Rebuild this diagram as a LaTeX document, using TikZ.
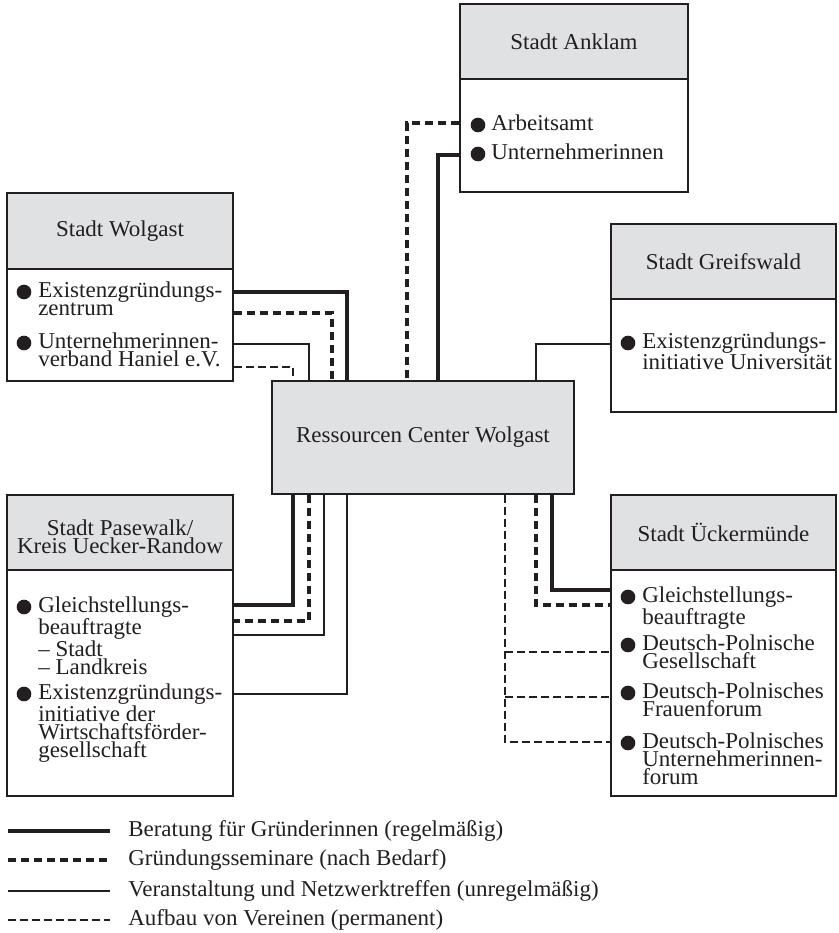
\documentclass[tikz,border=0pt]{standalone}
\usepackage{fontspec}
\setmainfont{Liberation Serif}[FakeStretch=1.015]
\usetikzlibrary{fit}
\definecolor{hdrgray}{HTML}{DFE1E2}
\definecolor{ink}{HTML}{231F20}
\tikzset{
  box/.style={draw=ink, line width=1.25pt, inner sep=0pt},
  hdr/.style={box, fill=hdrgray},
  bodybox/.style={box, fill=white},
  txtfont/.style={font=\fontsize{17}{13.5}\selectfont, text=ink},
  itm/.style={txtfont, anchor=north west, inner sep=0pt, align=left},
  ttl/.style={txtfont, align=center, inner sep=0pt},
  bul/.style={circle, fill=ink, inner sep=0pt, minimum size=11pt},
  cthick/.style={draw=ink, line width=2.5pt},
  cthickdash/.style={draw=ink, line width=2.5pt, dash pattern=on 6pt off 3.75pt},
  cthin/.style={draw=ink, line width=1pt},
  cdash/.style={draw=ink, line width=1pt, dash pattern=on 6pt off 3pt},
}
\begin{document}
\begin{tikzpicture}[x=0.75pt,y=-0.75pt]
\useasboundingbox (0,0) rectangle (839,933);

% ---------- boxes ----------
% Anklam
\node[hdr, fit={(460,4) (688,79)}] (ankH) {};
\node[bodybox, fit={(460,79) (688,192)}] (ankB) {};
\node[ttl] (ankT) at (ankH.center) {Stadt Anklam};
% Wolgast
\node[hdr, fit={(7,193) (233,269)}] (wolH) {};
\node[bodybox, fit={(7,269) (233,381)}] (wolB) {};
\node[ttl] (wolT) at (wolH.center) {Stadt Wolgast};
% Greifswald
\node[hdr, fit={(611,224) (836,299)}] (greH) {};
\node[bodybox, fit={(611,299) (836,412)}] (greB) {};
\node[ttl] (greT) at (greH.center) {Stadt Greifswald};
% Center
\node[hdr, fit={(272,381) (574,494)}] (rcw) {};
\node[ttl] (rcwT) at (rcw.center) {Ressourcen Center Wolgast};
% Pasewalk
\node[hdr, fit={(7,495) (233,570)}] (pasH) {};
\node[bodybox, fit={(7,570) (233,796)}] (pasB) {};
\node[ttl] (pasT) at ([yshift=-3pt]pasH.center) {Stadt Pasewalk/\\Kreis Uecker-Randow};
% Ueckermuende
\node[hdr, fit={(611,495) (836,570)}] (uckH) {};
\node[bodybox, fit={(611,570) (836,796)}] (uckB) {};
\node[ttl] (uckT) at (uckH.center) {Stadt Ückermünde};

% ---------- items ----------
\node[bul] (ankb1) at (478,125) {};
\node[itm] (anki1) at (491,114.5) {Arbeitsamt};
\node[bul] (ankb2) at (478,154) {};
\node[itm] (anki2) at (491,143.5) {Unternehmerinnen};

\node[bul] (wolb1) at (24,292) {};
\node[itm] (woli1) at (38,281.5) {Existenzgründungs-\\zentrum};
\node[bul] (wolb2) at (24,343) {};
\node[itm] (woli2) at (38,332.5) {Unternehmerinnen-\\verband Haniel e.V.};

\node[bul] (greb1) at (628,343) {};
\node[itm] (grei1) at (642,332.5) {Existenzgründungs-\\initiative Universität};

\node[bul] (pasb1) at (24,607) {};
\node[itm] (pasi1) at (38,596.5) {Gleichstellungs-\\beauftragte\\\textendash\ Stadt\\\textendash\ Landkreis};
\node[bul] (pasb2) at (24,694) {};
\node[itm] (pasi2) at (38,683.5) {Existenzgründungs-\\initiative der\\Wirtschaftsförder-\\gesellschaft};

\node[bul] (uckb1) at (628,597) {};
\node[itm] (ucki1) at (642,586.5) {Gleichstellungs-\\beauftragte};
\node[bul] (uckb2) at (628,645) {};
\node[itm] (ucki2) at (642,634.5) {Deutsch-Polnische\\Gesellschaft};
\node[bul] (uckb3) at (628,693) {};
\node[itm] (ucki3) at (642,682.5) {Deutsch-Polnisches\\Frauenforum};
\node[bul] (uckb4) at (628,743) {};
\node[itm] (ucki4) at (642,732.5) {Deutsch-Polnisches\\Unternehmerinnen-\\forum};

% ---------- connectors ----------
% Anklam
\draw[cthickdash] (ankB.west |- 0,123) -| (rcw.north -| 407,0);
\draw[cthick] (ankB.west |- 0,155) -| (rcw.north -| 438,0);
% Wolgast
\draw[cthick] (wolB.east |- 0,292) -| (rcw.north -| 347,0);
\draw[cthickdash] (wolB.east |- 0,313) -| (rcw.north -| 332,0);
\draw[cthin] (wolB.east |- 0,344) -| (rcw.north -| 309,0);
\draw[cdash] (wolB.east |- 0,367) -| (rcw.north -| 293,0);
% Greifswald
\draw[cthin] (greB.west |- 0,344) -| (rcw.north -| 536,0);
% Pasewalk
\draw[cthick] (rcw.south -| 293,0) |- (pasB.east |- 0,605);
\draw[cthickdash] (rcw.south -| 309,0) |- (pasB.east |- 0,621);
\draw[cthin] (rcw.south -| 324,0) |- (pasB.east |- 0,635);
\draw[cthin] (rcw.south -| 347,0) |- (pasB.east |- 0,694);
% Ueckermuende
\draw[cthick] (rcw.south -| 552,0) |- (uckB.west |- 0,590);
\draw[cthickdash] (rcw.south -| 536,0) |- (uckB.west |- 0,605);
\draw[cdash] (rcw.south -| 505,0) |- (uckB.west |- 0,742);
\coordinate (ubr2) at (505,652);
\coordinate (ubr3) at (505,697);
\draw[cdash] (ubr2) -- (uckB.west |- ubr2);
\draw[cdash] (ubr3) -- (uckB.west |- ubr3);

% ---------- legend ----------
\coordinate (l1a) at (8,831); \coordinate (l1b) at (110,831);
\coordinate (l2a) at (8,860); \coordinate (l2b) at (110,860);
\coordinate (l3a) at (8,891); \coordinate (l3b) at (110,891);
\coordinate (l4a) at (8,920); \coordinate (l4b) at (110,920);
\draw[cthick] (l1a) -- (l1b);
\draw[cthickdash] (l2a) -- (l2b);
\draw[cthin] (l3a) -- (l3b);
\draw[cdash] (l4a) -- (l4b);
\node[txtfont, anchor=base west, inner sep=0pt] (l1t) at (128,836) {Beratung für Gründerinnen (regelmäßig)};
\node[txtfont, anchor=base west, inner sep=0pt] (l2t) at (128,865) {Gründungsseminare (nach Bedarf)};
\node[txtfont, anchor=base west, inner sep=0pt] (l3t) at (128,896) {Veranstaltung und Netzwerktreffen (unregelmäßig)};
\node[txtfont, anchor=base west, inner sep=0pt] (l4t) at (128,925) {Aufbau von Vereinen (permanent)};
\end{tikzpicture}
\end{document}
